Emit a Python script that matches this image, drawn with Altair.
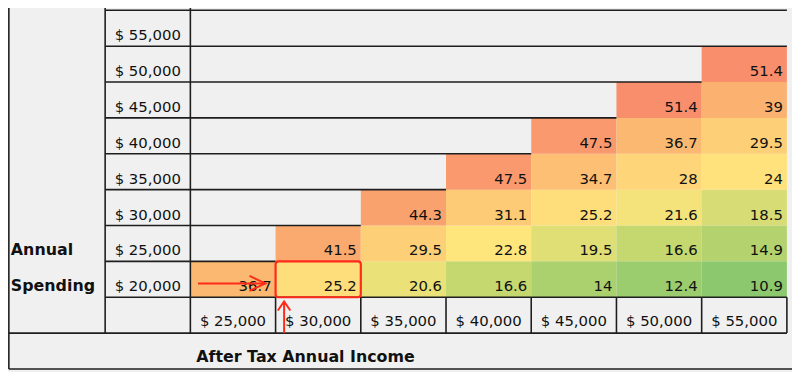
import altair as alt
import pandas as pd

# ---- data -------------------------------------------------------------
incomes = ["$ 25,000", "$ 30,000", "$ 35,000", "$ 40,000",
           "$ 45,000", "$ 50,000", "$ 55,000"]
spendings = ["$ 20,000", "$ 25,000", "$ 30,000", "$ 35,000",
             "$ 40,000", "$ 45,000", "$ 50,000", "$ 55,000"]
row_20k = [36.7, 25.2, 20.6, 16.6, 14, 12.4, 10.9]
row_25k = [None, 41.5, 29.5, 22.8, 19.5, 16.6, 14.9]
row_30k = [None, None, 44.3, 31.1, 25.2, 21.6, 18.5]
row_35k = [None, None, None, 47.5, 34.7, 28, 24]
row_40k = [None, None, None, None, 47.5, 36.7, 29.5]
row_45k = [None, None, None, None, None, 51.4, 39]
row_50k = [None, None, None, None, None, None, 51.4]
row_55k = [None, None, None, None, None, None, None]
rows = [row_20k, row_25k, row_30k, row_35k, row_40k, row_45k, row_50k, row_55k]
row_title = ["Annual", "Spending"]
col_title = "After Tax Annual Income"
highlight = ("$ 30,000", "$ 20,000")

# ---- tables built from the lists --------------------------------------
cells = []
for j, (sp, vals) in enumerate(zip(spendings, rows)):
    for i, v in enumerate(vals):
        if v is not None:
            cells.append({"income": incomes[i], "spending": sp, "value": v,
                          "xi": i, "yj": j, "label": f"{v:g}"})
cells = pd.DataFrame(cells)

nI, nS = len(incomes), len(spendings)
LEFT = -2.13
segs = []
# staircase borders of the empty cells + row-label column
for k in range(1, nS + 1):
    first = next((i for i, v in enumerate(rows[k]) if v is not None), nI) if k < nS else nI
    segs.append({"x": -1, "x2": first, "y": k, "y2": k})
segs.append({"x": -1, "x2": nI, "y": 0, "y2": 0})
segs.append({"x": LEFT, "x2": nI, "y": -1, "y2": -1})
segs.append({"x": LEFT, "x2": nI + 0.1, "y": -2, "y2": -2})
segs.append({"x": LEFT, "x2": LEFT, "y": -2, "y2": nS + 0.1})
segs.append({"x": -1, "x2": -1, "y": -1, "y2": nS + 0.1})
segs.append({"x": 0, "x2": 0, "y": -1, "y2": nS + 0.1})
for i in range(1, nI + 1):
    segs.append({"x": i, "x2": i, "y": -1, "y2": 0})
segs = pd.DataFrame(segs)

rowlab = pd.DataFrame({"label": spendings, "yj": range(nS)})
collab = pd.DataFrame({"label": incomes, "xi": range(nI)})
ytitle = pd.DataFrame({"label": row_title,
                       "yj": [spendings.index("$ 25,000"), spendings.index("$ 20,000")]})
xtitle = pd.DataFrame({"label": [col_title]})

hx = incomes.index(highlight[0])
hy = spendings.index(highlight[1])
hl = pd.DataFrame({"xi": [hx], "yj": [hy]})
arrows = pd.DataFrame([
    {"x": hx - 0.91, "x2": hx - 0.12, "y": hy + 0.385, "y2": hy + 0.385},
    {"x": hx + 0.1, "x2": hx + 0.1, "y": hy - 1, "y2": hy - 0.12},
])
head_r = pd.DataFrame({"x": [hx - 0.12], "y": [hy + 0.385]})
head_u = pd.DataFrame({"x": [hx + 0.1], "y": [hy - 0.12]})

# ---- scales -----------------------------------------------------------
xs = alt.Scale(domain=[-2.14, 7.06], nice=False, zero=False)
ys = alt.Scale(domain=[-2.04, 8.02], nice=False, zero=False)
cs = alt.Scale(domain=[10.9, 16.6, 22.8, 36.7, 51.4],
               range=["#8cc86d", "#c5d870", "#ffe67c", "#fbb871", "#f88e6b"],
               interpolate="rgb")
FONT = "DejaVu Sans"
LINE = "#1e1e1e"
RED = "#ff2a1a"
FS = 15

heat = alt.Chart(cells).transform_calculate(
    x1="datum.xi + 1", y1="datum.yj + 1"
).mark_rect(stroke=None).encode(
    x=alt.X("xi:Q", scale=xs, axis=None),
    x2="x1:Q",
    y=alt.Y("yj:Q", scale=ys, axis=None),
    y2="y1:Q",
    color=alt.Color("value:Q", scale=cs, legend=None),
)

vals = alt.Chart(cells).transform_calculate(x1="datum.xi + 1").mark_text(
    align="right", baseline="alphabetic", dx=-4, dy=-6,
    font=FONT, fontSize=FS, color="#111111"
).encode(
    x=alt.X("x1:Q", scale=xs, axis=None),
    y=alt.Y("yj:Q", scale=ys, axis=None),
    text="label:N",
)

grid = alt.Chart(segs).mark_rule(color=LINE, strokeWidth=1.6).encode(
    x=alt.X("x:Q", scale=xs, axis=None), x2="x2:Q",
    y=alt.Y("y:Q", scale=ys, axis=None), y2="y2:Q",
)

rl = alt.Chart(rowlab).transform_calculate(xc="-0.5").mark_text(
    align="center", baseline="alphabetic", dy=-6,
    font=FONT, fontSize=FS, color="#111111"
).encode(
    x=alt.X("xc:Q", scale=xs, axis=None),
    y=alt.Y("yj:Q", scale=ys, axis=None),
    text="label:N",
)

cl = alt.Chart(collab).transform_calculate(xc="datum.xi + 0.5", yb="-1").mark_text(
    align="center", baseline="alphabetic", dy=-7,
    font=FONT, fontSize=FS, color="#111111"
).encode(
    x=alt.X("xc:Q", scale=xs, axis=None),
    y=alt.Y("yb:Q", scale=ys, axis=None),
    text="label:N",
)

yt = alt.Chart(ytitle).transform_calculate(xl=str(LEFT)).mark_text(
    align="left", baseline="alphabetic", dx=2, dy=-6,
    font=FONT, fontSize=16, fontWeight="bold", color="#111111"
).encode(
    x=alt.X("xl:Q", scale=xs, axis=None),
    y=alt.Y("yj:Q", scale=ys, axis=None),
    text="label:N",
)

xt = alt.Chart(xtitle).transform_calculate(xl="0", yb="-2").mark_text(
    align="left", baseline="alphabetic", dx=6, dy=-7,
    font=FONT, fontSize=16, fontWeight="bold", color="#111111"
).encode(
    x=alt.X("xl:Q", scale=xs, axis=None),
    y=alt.Y("yb:Q", scale=ys, axis=None),
    text="label:N",
)

box = alt.Chart(hl).transform_calculate(
    x1="datum.xi + 1", y1="datum.yj + 1"
).mark_rect(fillOpacity=0, stroke=RED, strokeWidth=2.2, cornerRadius=3).encode(
    x=alt.X("xi:Q", scale=xs, axis=None), x2="x1:Q",
    y=alt.Y("yj:Q", scale=ys, axis=None), y2="y1:Q",
)

arr = alt.Chart(arrows).mark_rule(color=RED, strokeWidth=2).encode(
    x=alt.X("x:Q", scale=xs, axis=None), x2="x2:Q",
    y=alt.Y("y:Q", scale=ys, axis=None), y2="y2:Q",
)
hr = alt.Chart(head_r).mark_point(
    shape="M-1,-0.47L0,0L-1,0.47", size=1024, filled=False,
    stroke=RED, strokeWidth=2, opacity=1
).encode(x=alt.X("x:Q", scale=xs, axis=None), y=alt.Y("y:Q", scale=ys, axis=None))
hu = alt.Chart(head_u).mark_point(
    shape="M-0.7,1L0,0L0.7,1", size=324, filled=False,
    stroke=RED, strokeWidth=2, opacity=1
).encode(x=alt.X("x:Q", scale=xs, axis=None), y=alt.Y("y:Q", scale=ys, axis=None))

chart = alt.layer(heat, grid, vals, rl, cl, yt, xt, box, arr, hr, hu).properties(
    width=791, height=364, padding=0, autosize="none", background="#f0f0f0"
).configure_view(stroke=None)

chart.save("out.html", embed_options={"renderer": "svg", "actions": False})
